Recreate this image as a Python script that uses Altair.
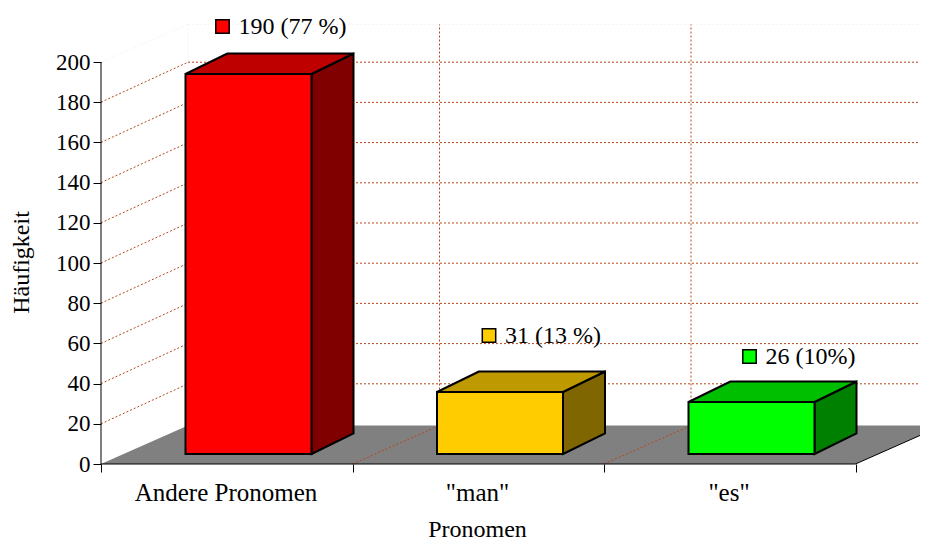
import json
import altair as alt
import pandas as pd

categories = ["Andere Pronomen", '"man"', '"es"']
values = [190, 31, 26]
labels = ["190 (77 %)", "31 (13 %)", "26 (10%)"]
front_colors = ["#ff0000", "#ffcc00", "#00ff00"]
top_colors = ["#bf0000", "#bf9900", "#00bf00"]
side_colors = ["#800000", "#806600", "#008000"]
y_ticks = list(range(0, 201, 20))
x_ticks = [0, 1, 2, 3]

# plot geometry (scale units: one category = 1 on x, counts on y)
PX_X = 251.5
PX_Y = 2.01
PLOT_W = 819
PLOT_H = 456
FLOOR_DX = 87 / PX_X
FLOOR_DY = 40 / PX_Y
FLOOR_TOP = 38.5 / PX_Y
BAR_OFF = 84.5 / PX_X
BAR_W = 126 / PX_X
BAR_DX = 42 / PX_X
BAR_DY = 20.5 / PX_Y
BAR_BASE = 10 / PX_Y
BAR_K = 2.0 / PX_Y
NUDGE_X = [-26 / PX_X, -11 / PX_X, -2 / PX_X]
NUDGE_Y = [27 / PX_Y, 36 / PX_Y, 25 / PX_Y]
TEXT_DX = 16
SERIF = "Liberation Serif"
GRID = "#b4481c"

xs = alt.Scale(domain=[0, PLOT_W / PX_X], nice=False, zero=False)
ys = alt.Scale(domain=[0, PLOT_H / PX_Y], nice=False, zero=False)

fronts, tops, sides, marks = [], [], [], []
for i, v in enumerate(values):
    l = i + BAR_OFF
    r = l + BAR_W
    top = BAR_BASE + v * BAR_K
    fronts.append(dict(x=l, x2=r, y=BAR_BASE, y2=top, fill=front_colors[i]))
    tops += [
        dict(bar=i, x=l, x2=r, y=top, fill=top_colors[i]),
        dict(bar=i, x=l + BAR_DX, x2=r + BAR_DX, y=top + BAR_DY, fill=top_colors[i]),
    ]
    sides += [
        dict(bar=i, x=r, y=BAR_BASE, y2=top, fill=side_colors[i]),
        dict(bar=i, x=r + BAR_DX, y=BAR_BASE + BAR_DY, y2=top + BAR_DY, fill=side_colors[i]),
    ]
    marks.append(dict(x=l + BAR_W / 2 + NUDGE_X[i],
                      y=top + BAR_DY + NUDGE_Y[i], fill=front_colors[i], label=labels[i]))

X = lambda **k: alt.X("x:Q", scale=xs, **k)
Y = lambda **k: alt.Y("y:Q", scale=ys, **k)

grid_rows = []
for t in y_ticks[1:-1]:
    grid_rows.append(dict(x=0, y=t, x2=FLOOR_DX, y2=t + FLOOR_DY))
    grid_rows.append(dict(x=FLOOR_DX, y=t + FLOOR_DY, x2=3 + FLOOR_DX, y2=t + FLOOR_DY))
for t in x_ticks[1:-1]:
    grid_rows.append(dict(x=t, y=0, x2=t + FLOOR_DX, y2=FLOOR_TOP))
    grid_rows.append(dict(x=t + FLOOR_DX, y=FLOOR_TOP, x2=t + FLOOR_DX, y2=200 + FLOOR_DY - 1.2))

faint_rows = [
    dict(x=0, y=200, x2=FLOOR_DX, y2=200 + FLOOR_DY - 1.2),
    dict(x=FLOOR_DX, y=200 + FLOOR_DY - 1.2, x2=3 + FLOOR_DX, y2=200 + FLOOR_DY - 1.2),
    dict(x=FLOOR_DX, y=FLOOR_TOP, x2=FLOOR_DX, y2=200 + FLOOR_DY - 1.2),
]

label_expr = json.dumps(categories + [""]) + "[datum.value]"

axes_layer = alt.Chart(pd.DataFrame({"x": [0], "y": [0]})).mark_point(opacity=0).encode(
    x=X(axis=alt.Axis(values=x_ticks, labelExpr=label_expr, title="Pronomen", grid=False, domain=False,
                      tickSize=8, tickColor="black", labelOffset=124.5, labelPadding=8, labelLimit=400,
                      labelFont=SERIF, labelFontSize=25, labelColor="black", labelFlush=False,
                      labelOverlap=False, labelBound=False,
                      titleFont=SERIF, titleFontSize=24, titleFontWeight="normal", titleColor="black",
                      titleX=376, titleY=65, titleAnchor="middle", titleAlign="center", titleBaseline="middle")),
    y=Y(axis=alt.Axis(values=y_ticks, title="Häufigkeit", grid=False, domain=False,
                      tickSize=8, tickColor="black", labelPadding=3,
                      labelFont=SERIF, labelFontSize=23, labelColor="black", labelOverlap=False,
                      titleFont=SERIF, titleFontSize=24, titleFontWeight="normal", titleColor="black",
                      titleAngle=-90, titleX=-80, titleY=254, titleAlign="center", titleBaseline="middle")),
)

floor = alt.Chart(pd.DataFrame([
    dict(x=0, x2=3, y=0),
    dict(x=FLOOR_DX, x2=3 + FLOOR_DX, y=FLOOR_TOP),
])).mark_area(orient="horizontal", fill="#808080", opacity=1).encode(
    x=X(), x2="x2:Q", y=Y())

faint = alt.Chart(pd.DataFrame(faint_rows)).mark_rule(color=GRID, strokeDash=[2, 2], opacity=0.07).encode(
    x=X(), x2="x2:Q", y=Y(), y2="y2:Q")
grid = alt.Chart(pd.DataFrame(grid_rows)).mark_rule(color=GRID, strokeDash=[2, 2], strokeWidth=1).encode(
    x=X(), x2="x2:Q", y=Y(), y2="y2:Q")

frame = alt.Chart(pd.DataFrame([
    dict(x=0, x2=0, y=0, y2=200),
    dict(x=0, x2=3, y=0, y2=0),
    dict(x=3, x2=3 + FLOOR_DX, y=0, y2=FLOOR_TOP),
])).mark_rule(color="black", strokeWidth=1).encode(
    x=X(), x2="x2:Q", y=Y(), y2="y2:Q")

STROKE = 2
side = alt.Chart(pd.DataFrame(sides)).mark_area(stroke="black", strokeWidth=STROKE, opacity=1).encode(
    x=X(), y=Y(), y2="y2:Q", detail="bar:N", fill=alt.Fill("fill:N", scale=None))
top_face = alt.Chart(pd.DataFrame(tops)).mark_area(orient="horizontal", stroke="black", strokeWidth=STROKE, opacity=1).encode(
    x=X(), x2="x2:Q", y=Y(), detail="bar:N", fill=alt.Fill("fill:N", scale=None))
front = alt.Chart(pd.DataFrame(fronts)).mark_rect(stroke="black", strokeWidth=STROKE).encode(
    x=X(), x2="x2:Q", y=Y(), y2="y2:Q", fill=alt.Fill("fill:N", scale=None))

squares = alt.Chart(pd.DataFrame(marks)).mark_point(shape="square", filled=True, size=180, stroke="black", strokeWidth=1.5, opacity=1).encode(
    x=X(), y=Y(), fill=alt.Fill("fill:N", scale=None))
texts = alt.Chart(pd.DataFrame(marks)).mark_text(align="left", baseline="middle", dx=TEXT_DX, font=SERIF, fontSize=24, color="black").encode(
    x=X(), y=Y(), text="label:N")

chart = alt.layer(axes_layer, floor, faint, grid, frame, side, top_face, front, squares, texts).properties(
    width=PLOT_W, height=PLOT_H,
    padding={"left": 93, "top": 0, "right": 0, "bottom": 76},
    autosize=alt.AutoSizeParams(type="none"),
).configure_view(stroke=None)

chart.save("out.html", embed_options={"renderer": "svg", "actions": False})
